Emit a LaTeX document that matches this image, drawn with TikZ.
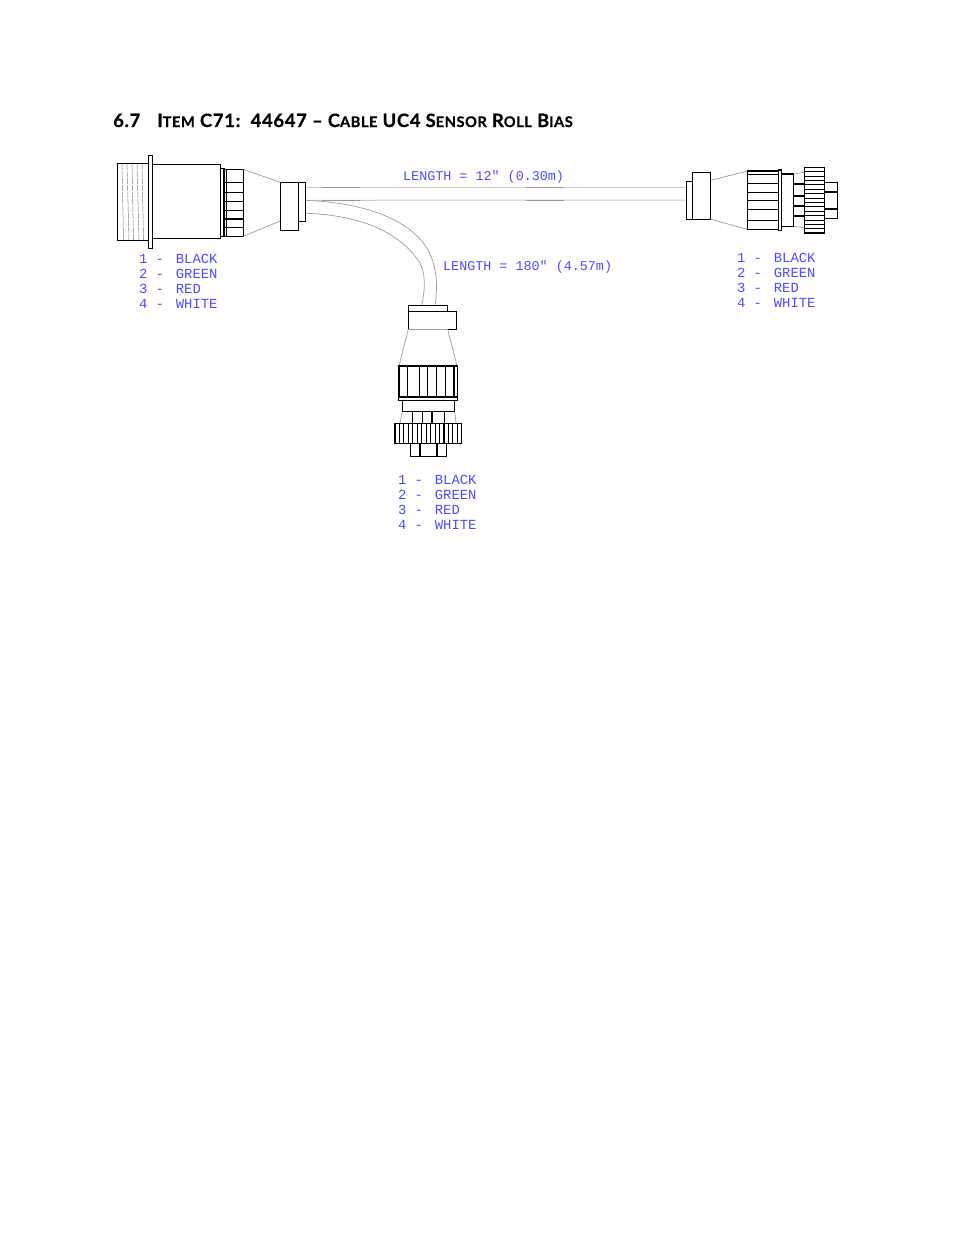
\documentclass[tikz,border=0pt]{standalone}
\usepackage{fontspec}
\setmainfont{Lato}[LetterSpace=3.8,BoldFeatures={FakeBold=0.6}]
\newfontfamily\cadfont{Liberation Mono}
\usetikzlibrary{positioning}
\definecolor{cadblue}{rgb}{0.3,0.3,1}
\definecolor{wiregray}{gray}{0.62}
\newcommand{\SmallCap}[1]{{\fontsize{14.6}{15}\selectfont #1}}
\newcommand{\WireRow}[2]{#1\hspace*{8pt}-\hspace*{12pt}#2}
\tikzset{
    part/.style={draw=black, line width=1.1pt, fill=white},
    heavy/.style={draw=black, line width=2pt},
    wire/.style={draw=wiregray, line width=0.7pt},
    sheath/.style={draw=black!20, line width=1pt},
    sheathdark/.style={draw=black!40, line width=1pt},
    thread/.style={draw=black!50, line width=0.5pt},
    cadlabel/.style={inner sep=0pt, anchor=west, text=cadblue, font=\cadfont\fontsize{13.4}{15}\selectfont},
    wirelist/.style={cadlabel, align=left, font=\cadfont\fontsize{13.9}{15}\selectfont}
}
\begin{document}
\begin{tikzpicture}[x=1pt, y=-1pt]

            \useasboundingbox (0,0) rectangle (954,1235);

            \node[inner sep=0pt, anchor=base west, font=\bfseries\fontsize{18.4}{20}\selectfont] (title) at (113,127)
                {6.7\hspace{17pt}I\SmallCap{TEM} C71:\ \ 44647 -- C\SmallCap{ABLE} UC4 S\SmallCap{ENSOR} R\SmallCap{OLL} B\SmallCap{IAS}};

            \coordinate (moldA) at (305.7,187);
            \coordinate (moldB) at (305.7,200.3);
            \coordinate (moldC) at (305.7,213.3);
            \coordinate (plugA) at (686.3,187);
            \coordinate (plugB) at (686.3,200);
            \coordinate (dropA) at (435,305.3);
            \coordinate (dropB) at (421.7,305.3);

            \draw[sheath] (moldA) -- (plugA);
            \draw[sheath] (moldB) -- (plugB);
            \foreach \y in {187,200.2} {
                \draw[sheathdark] (321.7,\y) -- (360,\y);
                \draw[sheathdark] (525.7,\y) -- (564,\y);
            }
            \draw[wire] (moldB) .. controls (370,203) and (412,222) .. (428,250) .. controls (437,267) and (438,285) .. (dropA);
            \draw[wire] (moldC) .. controls (360,215) and (400,232) .. (420,263) .. controls (426,275) and (425,290) .. (dropB);

            \draw[part] (117.3,163.3) rectangle (148.3,240.3);
            \foreach \x/\d in {122/1.5,127/2,132/1.5,137/2,142/1.5} {
                \draw[thread, dash pattern=on 6pt off 1pt] (\x,164) -- (\x+\d,240);
            }
            \draw[part] (148.3,155.3) rectangle (152.7,248.3);
            \draw[part] (152.7,164.3) rectangle (220.3,238.3);
            \draw[part] (220.3,168.3) rectangle (224,236.3);
            \draw[part] (224,169.3) rectangle (243.3,236.3);
            \draw[part] (226.7,169.3) -- (226.7,236.3);
            \foreach \y in {182.3,192.3,201.7,210.3,219,227.7} {
                \draw[part] (224,\y) -- (243.3,\y);
            }
            \draw[wire] (243.3,169.3) -- (280.3,182.3);
            \draw[wire] (243.3,236.3) -- (280.3,221);
            \draw[part] (280.3,182.3) rectangle (298.3,230.3);
            \draw[part] (298.3,182.3) rectangle (305.7,221.3);

            \draw[part] (686.3,181.3) rectangle (692.3,219.3);
            \draw[part] (692.3,172.3) rectangle (710.7,219.3);
            \draw[wire] (710.7,180.3) -- (747.3,171);
            \draw[wire] (710.7,219.3) -- (747.3,229.3);
            \draw[part] (747.3,171) rectangle (778.3,229.3);
            \foreach \y in {174.3,183.3,192.3,200.3,209.3,220.3} {
                \draw[part] (747.3,\y) -- (778.3,\y);
            }
            \draw[part] (778.3,170) rectangle (781.3,230.3);
            \draw[part] (781.3,174) rectangle (793.7,226.3);
            \draw[wire] (793.7,174) -- (804.3,172.3);
            \draw[wire] (793.7,226.3) -- (804.3,227.7);
            \draw[part] (793.7,183.3) rectangle (804.3,216.7);
            \draw[part] (793.7,196) -- (804.3,196);
            \draw[part] (793.7,206) -- (804.3,206);
            \draw[heavy] (793.7,183.7) -- (804.3,183.7);
            \draw[heavy] (793.7,216) -- (804.3,216);
            \draw[part] (804.3,167.3) rectangle (824.7,233.3);
            \foreach \i in {1,...,14} {
                \draw[part] (804.3,167.3+4.4*\i) -- (824.7,167.3+4.4*\i);
            }
            \draw[heavy] (804.3,233) -- (824.7,233);
            \draw[part] (824.7,182.3) rectangle (837.7,218.3);
            \draw[heavy] (824.7,192) -- (837.7,192);
            \draw[heavy] (824.7,209) -- (837.7,209);

            \draw[part] (408.3,305.3) rectangle (447.7,311.3);
            \draw[part, draw=none] (408.3,311.3) rectangle (456.3,329.3);
            \draw[part] (408.3,329.3) -- (408.3,311.3) -- (456.3,311.3) -- (456.3,329.3) -- (447.7,329.3);
            \draw[wire] (408.3,329.3) -- (447.7,329.3);
            \draw[wire] (408.3,329.3) -- (399,366);
            \draw[wire] (447.7,329.3) -- (457,366);
            \draw[part] (399,366) rectangle (457.7,397);
            \foreach \x in {407.3,419.3,427.3,436.3,445.3,454} {
                \draw[part] (\x,366) -- (\x,397);
            }
            \draw[part] (398.3,397) rectangle (457.7,400.3);
            \draw[part] (402.3,400.3) rectangle (454.7,411.3);
            \draw[wire] (402.3,411.3) -- (400,423.3);
            \draw[wire] (454.7,411.3) -- (456,423.3);
            \draw[part] (412.3,411.3) rectangle (444.7,423.3);
            \draw[part] (422.3,411.3) -- (422.3,423.3);
            \draw[heavy] (432,411.3) -- (432,423.3);
            \draw[part] (395,423.3) rectangle (461.7,443.3);
            \foreach \i in {1,...,14} {
                \draw[part] (395+4.45*\i,423.3) -- (395+4.45*\i,443.3);
            }
            \draw[part] (410.3,443.3) rectangle (446.3,456.7);
            \draw[heavy] (420,443.3) -- (420,456.7);
            \draw[heavy] (437,443.3) -- (437,456.7);

            \node[cadlabel] (lengthmain) at (403,177) {LENGTH = 12" (0.30m)};
            \node[cadlabel] (lengthdrop) at (443,267) {LENGTH = 180" (4.57m)};
            \node[wirelist] (wiresleft) at (139,281.5) {\WireRow{1}{BLACK}\\\WireRow{2}{GREEN}\\\WireRow{3}{RED}\\\WireRow{4}{WHITE}};
            \node[wirelist] (wiresright) at (737,280.5) {\WireRow{1}{BLACK}\\\WireRow{2}{GREEN}\\\WireRow{3}{RED}\\\WireRow{4}{WHITE}};
            \node[wirelist] (wiresdrop) at (398,502.5) {\WireRow{1}{BLACK}\\\WireRow{2}{GREEN}\\\WireRow{3}{RED}\\\WireRow{4}{WHITE}};

        \end{tikzpicture}
\end{document}
